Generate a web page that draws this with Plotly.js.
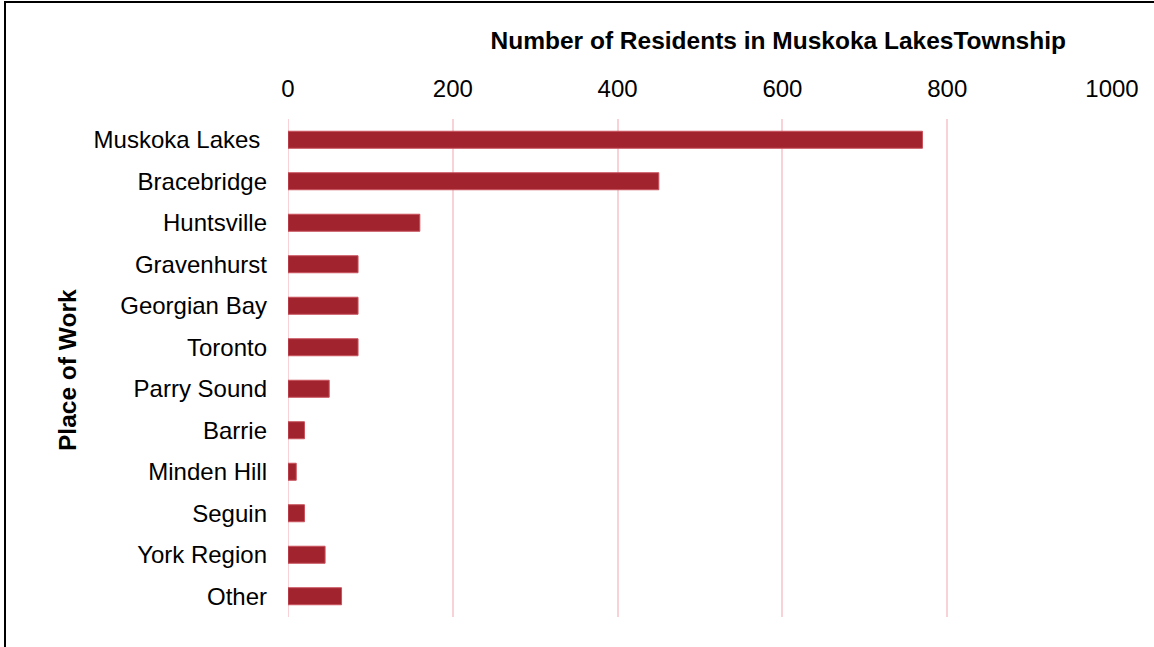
<!DOCTYPE html>
<html>
<head>
<meta charset="utf-8">
<script src="https://cdn.plot.ly/plotly-3.0.1.min.js"></script>
<style>
  html, body { margin: 0; padding: 0; background: #fff; }
  #wrap { position: relative; width: 1154px; height: 647px; }
  #chart { width: 1154px; height: 647px; }
  #frame { position: absolute; left: 4px; top: 1px; right: -10px; bottom: -10px;
           border-left: 2px solid #000; border-top: 2px solid #000; pointer-events: none; }
</style>
</head>
<body>
<div id="wrap">
  <div id="chart"></div>
  <div id="frame"></div>
</div>
<script>
const places = ["Muskoka Lakes\u00a0", "Bracebridge", "Huntsville", "Gravenhurst", "Georgian Bay",
  "Toronto", "Parry Sound", "Barrie", "Minden Hill", "Seguin", "York Region", "Other"];
const residents = [770, 450, 160, 85, 85, 85, 50, 20, 10, 20, 45, 65];
const xTicks = [0, 200, 400, 600, 800, 1000];

const FONT = "Liberation Sans, Arial, sans-serif";

const trace = {
  type: "bar",
  orientation: "h",
  x: residents,
  y: places,
  marker: { color: "#a0232e", line: { color: "#c9525c", width: 1 } },
  width: 0.41,
  hoverinfo: "x+y"
};

const layout = {
  width: 1154,
  height: 647,
  margin: { l: 288, r: 42, t: 119, b: 30 },
  paper_bgcolor: "#fff",
  plot_bgcolor: "#fff",
  showlegend: false,
  font: { family: FONT, size: 24, color: "#000" },
  title: {
    text: "<b>Number of Residents in Muskoka LakesTownship</b>",
    font: { family: FONT, size: 24.5, color: "#000" },
    x: 0.595, xref: "paper", xanchor: "center",
    y: 1 - 40 / 647, yref: "container", yanchor: "middle"
  },
  xaxis: {
    side: "top",
    range: [0, 1000],
    tickvals: xTicks,
    ticktext: xTicks.map(String),
    showgrid: true,
    gridcolor: "#f7d3d8",
    gridwidth: 2,
    zeroline: false,
    showline: false,
    ticks: "",
    ticklabelstandoff: 16,
    tickfont: { family: FONT, size: 24, color: "#000" },
    fixedrange: true
  },
  yaxis: {
    type: "category",
    autorange: "reversed",
    showgrid: false,
    zeroline: false,
    showline: false,
    ticks: "",
    ticklabelstandoff: 20,
    tickfont: { family: FONT, size: 24, color: "#000" },
    fixedrange: true
  },
  annotations: [{
    text: "<b>Place of Work</b>",
    font: { family: FONT, size: 24.5, color: "#000" },
    textangle: -90,
    xref: "paper", yref: "paper",
    x: (67 - 288) / 824, y: (617 - 370) / 498,
    xanchor: "center", yanchor: "middle",
    showarrow: false
  }],
  shapes: [{
    type: "line", xref: "x", yref: "paper", x0: 0, x1: 0, y0: 0, y1: 1,
    line: { color: "#f7d3d8", width: 2 }, layer: "below"
  }]
};

Plotly.newPlot("chart", [trace], layout, { displayModeBar: false, staticPlot: true });
</script>
</body>
</html>
